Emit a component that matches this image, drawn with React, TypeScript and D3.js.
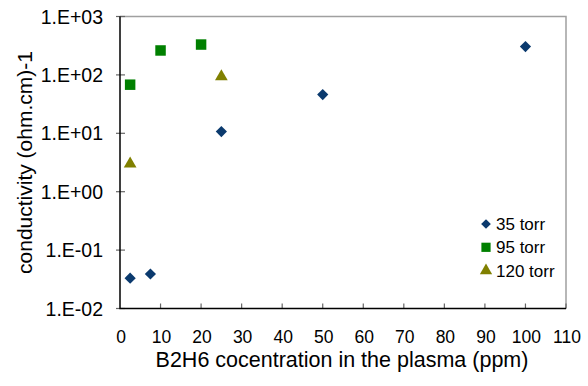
import React, { useRef, useEffect } from 'react';
import * as d3 from 'd3';

const torr35X = [2.5, 7.5, 25, 50, 100];
const torr35Y = [0.033, 0.039, 10.7, 46, 306];
const torr95X = [2.5, 10, 20];
const torr95Y = [68, 262, 331];
const torr120X = [2.5, 25];
const torr120Y = [3.0, 94];

const xTicks = [0, 10, 20, 30, 40, 50, 60, 70, 80, 90, 100, 110];
const yTicks = [0.01, 0.1, 1, 10, 100, 1000];
const yTickLabels = ['1.E-02', '1.E-01', '1.E+00', '1.E+01', '1.E+02', '1.E+03'];

const seriesNames = ['35 torr', '95 torr', '120 torr'];

function App() {
  const svgRef = useRef(null);
  useEffect(() => {
    const w = 588;
    const h = 386;
    const left = 120, right = 566, top = 16.5, bottom = 308.5;
    const font = 'Arial, "Liberation Sans", sans-serif';
    const svg = d3.select(svgRef.current)
      .attr('width', w)
      .attr('height', h)
      .style('background', '#fff');
    svg.selectAll('*').remove();

    const x = d3.scaleLinear().domain([0, 110]).range([left, right]);
    const y = d3.scaleLog().domain([0.01, 1000]).range([bottom, top]);

    // frame: gray top / right
    svg.append('path')
      .attr('d', `M${left},${top}H${right}V${bottom}`)
      .attr('fill', 'none')
      .attr('stroke', '#a0a0a0')
      .attr('stroke-width', 1.5);

    // x ticks (inside)
    svg.append('g').selectAll('line')
      .data(xTicks.slice(1))
      .join('line')
      .attr('x1', d => x(d)).attr('x2', d => x(d))
      .attr('y1', bottom).attr('y2', bottom - 5)
      .attr('stroke', '#666').attr('stroke-width', 1.2);

    // y ticks (cross)
    svg.append('g').selectAll('line')
      .data(yTicks)
      .join('line')
      .attr('x1', left - 4).attr('x2', left + 5)
      .attr('y1', d => y(d)).attr('y2', d => y(d))
      .attr('stroke', '#666').attr('stroke-width', 1.2);

    // axes
    svg.append('path')
      .attr('d', `M${left},${top}V${bottom}H${right}`)
      .attr('fill', 'none')
      .attr('stroke', '#000')
      .attr('stroke-width', 1.5);

    svg.append('g').selectAll('text')
      .data(xTicks)
      .join('text')
      .attr('x', d => x(d) + 1)
      .attr('y', 343)
      .attr('text-anchor', 'middle')
      .style('font-family', font)
      .style('font-size', '17.5px')
      .text(d => String(d));

    svg.append('g').selectAll('text')
      .data(yTicks)
      .join('text')
      .attr('x', 103)
      .attr('y', d => y(d))
      .attr('dy', '0.36em')
      .attr('text-anchor', 'end')
      .style('font-family', font)
      .style('font-size', '19.5px')
      .text((d, i) => yTickLabels[i]);

    svg.append('text')
      .attr('x', 342)
      .attr('y', 367)
      .attr('text-anchor', 'middle')
      .style('font-family', font)
      .style('font-size', '21.5px')
      .text('B2H6 cocentration in the plasma (ppm)');

    svg.append('text')
      .attr('transform', `translate(32, ${(top + bottom) / 2}) rotate(-90)`)
      .attr('text-anchor', 'middle')
      .style('font-family', font)
      .style('font-size', '21px')
      .text('conductivity (ohm.cm)-1');

    const diamond = d3.symbol().type(d3.symbolDiamond2).size(80);
    const square = d3.symbol().type(d3.symbolSquare).size(110);
    const triangle = d3.symbol().type(d3.symbolTriangle).size(70);

    const colors = ['#0b3a6e', '#008000', '#808000'];
    const shapes = [diamond, square, triangle];
    const xs = [torr35X, torr95X, torr120X];
    const ys = [torr35Y, torr95Y, torr120Y];

    xs.forEach((sx, s) => {
      svg.append('g').selectAll('path')
        .data(sx)
        .join('path')
        .attr('transform', (d, i) => `translate(${x(d)},${y(ys[s][i])})`)
        .attr('d', shapes[s]() as string)
        .attr('fill', colors[s]);
    });

    const legend = svg.append('g').attr('transform', 'translate(486, 224)');
    seriesNames.forEach((name, i) => {
      const row = legend.append('g').attr('transform', `translate(0, ${i * 23.3})`);
      row.append('path')
        .attr('d', d3.symbol().type([d3.symbolDiamond2, d3.symbolSquare, d3.symbolTriangle][i]).size([60, 85, 65][i])() as string)
        .attr('fill', colors[i]);
      row.append('text')
        .attr('x', 10)
        .attr('dy', '0.36em')
        .style('font-family', font)
        .style('font-size', '17px')
        .text(name);
    });
  }, []);
  return (
    <svg ref={svgRef} style={{ position: 'absolute', left: 0, top: 0 }}></svg>
  );
}

export default App;
